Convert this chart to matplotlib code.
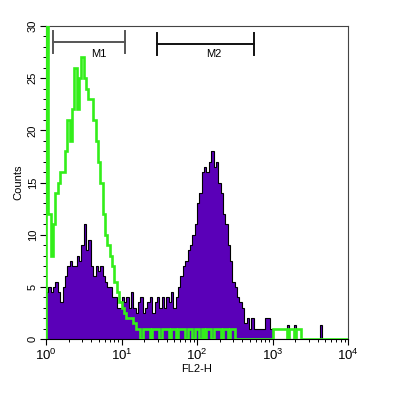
import numpy as np
import matplotlib
matplotlib.use("Agg")
import matplotlib.pyplot as plt
from matplotlib.ticker import LogLocator, MultipleLocator

plt.rcParams['font.family'] = ['Liberation Sans', 'DejaVu Sans']

# 128 log channels over 4 decades (FL2-H 10^0 .. 10^4)
n_channels = 128
x_range = (1, 1e4)

# sample (filled purple)
sample_counts = [
    4.5, 5, 4.5, 5, 5.5, 4.5, 3.5, 5, 6, 7,
    7.5, 7, 7, 8, 7.5, 9, 11, 8.5, 9.5, 7,
    6, 7, 6.5, 7, 6, 5.5, 5, 5, 4, 4,
    3, 3, 4, 3.5, 4, 3, 4.5, 3, 2.5, 3.5,
    4, 2.5, 3, 3.5, 4, 2.5, 3.5, 4, 3, 4,
    3, 4, 3.5, 4.5, 3, 4, 5, 6, 7, 7.5,
    8.5, 9, 10, 11, 13, 14, 16, 16.5, 16, 17,
    18, 16.5, 17, 15, 14, 12, 11, 9, 7.5, 5.5,
    5, 4, 3.5, 3, 1.5, 2, 1, 2, 1, 1,
    1, 1, 1, 2, 2, 1, 0, 0, 0, 0,
    0, 0, 1.3, 0, 0, 1.3, 0, 0, 0, 0,
    0, 0, 0, 0, 0, 0, 1.3, 0, 0, 0,
    0, 0, 0, 0, 0, 0, 0, 0,
]

# isotype control (green outline)
control_counts = [
    32, 12, 8, 11, 14, 15, 16, 16, 18, 21,
    19, 22, 26, 22, 25, 27, 25, 24, 23, 23,
    21, 19, 17, 15, 12, 10, 9, 8, 7, 5.5,
    4.5, 3.5, 3, 2.5, 2, 2, 2, 1.5, 1, 1,
    0, 1, 1, 1, 0, 1, 1, 1, 0, 1,
    1, 1, 0, 1, 1, 0, 1, 1, 1, 0,
    1, 1, 0, 1, 1, 0, 1, 0, 1, 1,
    0, 1, 1, 1, 0, 1, 1, 0, 1, 1,
    0, 0, 0, 0, 0, 0, 0, 0, 0, 0,
    0, 0, 0, 0, 0, 0, 1, 1, 1, 1,
    1, 1, 0, 1, 1, 0, 1, 1, 0, 0,
    0, 0, 0, 0, 0, 0, 0, 0, 0, 0,
    0, 0, 0, 0, 0, 0, 0, 0,
]

# gate markers
gate_names = ['M1', 'M2']
gate_lo = [1.23, 29.5]
gate_hi = [11.2, 569]
gate_y = [28.5, 28.3]
gate_label_x = [5.0, 168]
gate_colors = ['#555555', '#111111']

edges = np.logspace(np.log10(x_range[0]), np.log10(x_range[1]), n_channels + 1)

fig = plt.figure(figsize=(4.03, 3.94), dpi=100)
ax = fig.add_axes([46 / 403, 1 - 339 / 394, 302 / 403, 313 / 394])

ax.stairs(sample_counts, edges, fill=True, facecolor='#5a00b8',
          edgecolor='none', zorder=2)
ax.stairs(sample_counts, edges, color='black', linewidth=0.8, zorder=3)
ax.stairs(control_counts, edges, color='#33ee1a', linewidth=1.9, zorder=4)

for name, lo, hi, y, lx, c in zip(gate_names, gate_lo, gate_hi, gate_y,
                                  gate_label_x, gate_colors):
    ax.plot([lo, hi], [y, y], color=c, lw=1.4, zorder=5)
    ax.plot([lo, lo], [y - 1.05, y + 1.05], color=c, lw=1.4, zorder=5)
    ax.plot([hi, hi], [y - 1.05, y + 1.05], color=c, lw=1.4, zorder=5)
    ax.text(lx, 27.3, name, ha='center', va='center', fontsize=8, zorder=5)

ax.set_xscale('log')
ax.set_xlim(*x_range)
ax.set_ylim(0, 30)
ax.xaxis.set_major_locator(LogLocator(base=10, numticks=10))
ax.xaxis.set_minor_locator(LogLocator(base=10, subs=np.arange(2, 10), numticks=10))
ax.yaxis.set_major_locator(MultipleLocator(5))
ax.yaxis.set_minor_locator(MultipleLocator(1))

ax.tick_params(which='major', direction='out', length=4, width=0.8, pad=2)
ax.tick_params(axis='x', which='major', labelsize=9.5)
ax.tick_params(axis='y', which='major', labelsize=8)
ax.tick_params(which='minor', direction='out', length=2.2, width=0.7)
for lab in ax.get_yticklabels():
    lab.set_rotation(90)
    lab.set_va('center')

ax.set_xlabel('FL2-H', fontsize=8, labelpad=1)
ax.set_ylabel('Counts', fontsize=8, labelpad=3)

for side in ['top', 'right']:
    ax.spines[side].set_color('#444444')
for side in ax.spines:
    ax.spines[side].set_linewidth(0.8)

fig.savefig('out.png', dpi=100)
